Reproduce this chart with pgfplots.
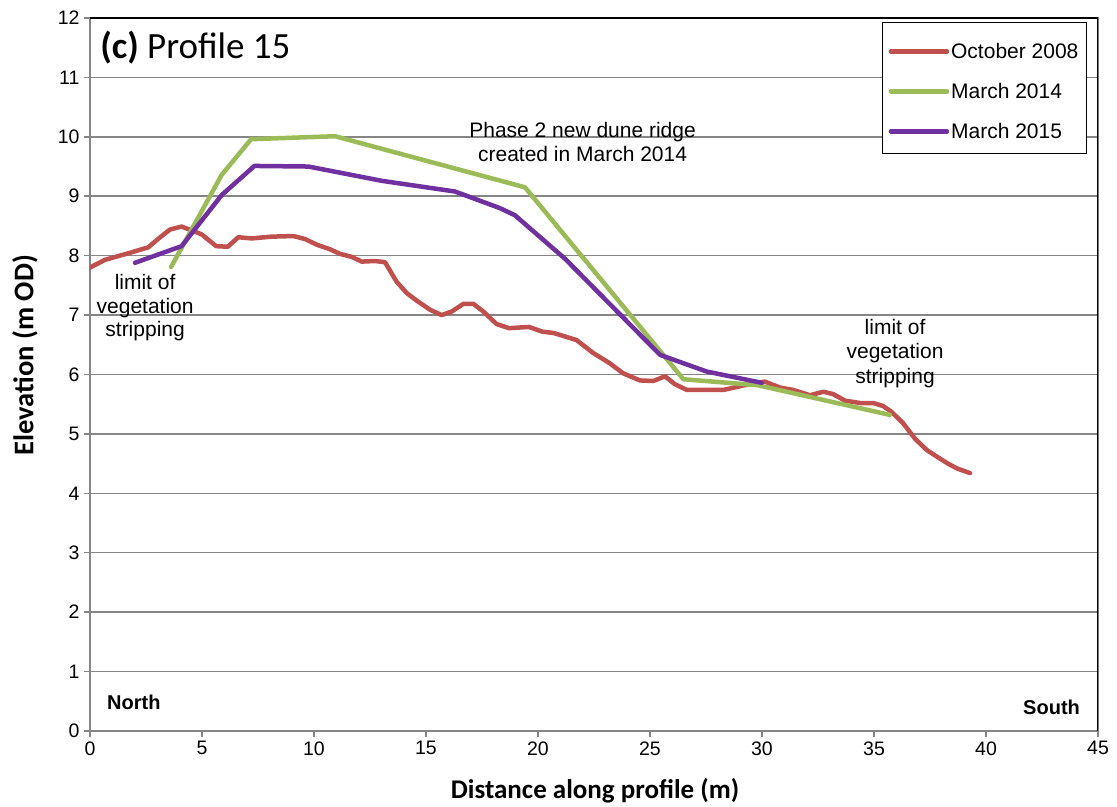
\documentclass[border=0pt]{standalone}
\usepackage{pgfplots}
\pgfplotsset{compat=1.18}
\usepackage{fontspec}
\setmainfont{Liberation Sans}
\newfontfamily\calibri{Carlito}
\definecolor{cred}{HTML}{C0504D}
\definecolor{cgreen}{HTML}{9BBB59}
\definecolor{cpurple}{HTML}{7030A0}
\definecolor{cgrid}{HTML}{868686}
\begin{document}
\begin{tikzpicture}
\begin{axis}[
  scale only axis, width=1008bp, height=713bp,
  at={(0,0)}, anchor=south west,
  xmin=0, xmax=45, ymin=0, ymax=12,
  xtick={0,5,...,45}, ytick={0,1,...,12},
  tick pos=left, tick align=outside, major tick length=6bp,
  tick style={cgrid, line width=1.5bp},
  ymajorgrids, grid style={cgrid, line width=1.5bp},
  axis line style={cgrid, line width=1.5bp},
  /pgf/number format/assume math mode=true,
  xticklabel style={font=\fontsize{19.5bp}{22bp}\selectfont, yshift=-1bp},
  yticklabel style={font=\fontsize{19.5bp}{22bp}\selectfont, xshift=-1bp},
  xlabel={Distance along profile (m)},
  ylabel={Elevation (m OD)},
  xlabel style={font=\calibri\bfseries\fontsize{27bp}{30bp}\selectfont, at={(axis description cs:0.501,-0.084)}, anchor=center},
  ylabel style={font=\calibri\bfseries\fontsize{28.5bp}{30bp}\selectfont, at={(axis description cs:-0.0645,0.527)}, anchor=center},
  legend style={at={(rel axis cs:0.989,0.994)}, anchor=north east, draw=black, line width=1bp,
    font=\fontsize{21bp}{24bp}\selectfont, inner xsep=6bp, inner ysep=8bp, row sep=5bp,
    nodes={inner xsep=2bp, inner ysep=2bp, text height=26bp, text depth=5bp}},
  legend cell align=left,
  legend image code/.code={\draw[#1, line width=4.5bp, line cap=round] (0bp,-3bp) -- (56bp,-3bp);},
  every axis plot/.append style={line width=4.5bp, line join=round, line cap=round},
]
\addplot[cred] coordinates {
(0,7.80) (0.67,7.93) (1.71,8.04) (2.6,8.14) (3.1,8.30) (3.57,8.44) (4.09,8.49) (4.98,8.36)
(5.63,8.16) (6.15,8.15) (6.62,8.31) (7.22,8.29) (8.1,8.32) (9.08,8.33) (9.6,8.28) (10.15,8.18)
(10.7,8.11) (11.16,8.03) (11.68,7.98) (12.13,7.90) (12.72,7.91) (13.17,7.89) (13.69,7.56)
(14.14,7.37) (14.6,7.24) (15.18,7.09) (15.7,7.00) (16.15,7.06) (16.67,7.19) (17.11,7.19)
(17.56,7.06) (18.15,6.85) (18.7,6.78) (19.6,6.80) (20.2,6.72) (20.68,6.70) (21.2,6.64)
(21.72,6.58) (22.47,6.36) (23.2,6.19) (23.8,6.02) (24.55,5.90) (25.15,5.89) (25.67,5.97)
(26.1,5.84) (26.64,5.74) (27.68,5.74) (28.27,5.74) (28.87,5.79) (29.46,5.84) (30.13,5.88)
(30.8,5.78) (31.4,5.74) (32.14,5.65) (32.74,5.71) (33.18,5.67) (33.7,5.56) (34.38,5.52)
(34.97,5.52) (35.4,5.47) (35.79,5.37) (36.3,5.18) (36.83,4.92) (37.35,4.73) (37.8,4.62)
(38.3,4.50) (38.7,4.42) (39.29,4.34)
};
\addlegendentry{October 2008}
\addplot[cgreen] coordinates {
(3.62,7.81) (5.88,9.36) (7.19,9.96) (10.94,10.01) (19.42,9.15) (26.49,5.92) (29.8,5.82) (35.71,5.32)
};
\addlegendentry{March 2014}
\addplot[cpurple] coordinates {
(2.01,7.88) (4.09,8.16) (5.88,9.02) (7.34,9.51) (9.75,9.50) (13.02,9.26) (16.29,9.08)
(18.3,8.80) (18.97,8.68) (21.2,7.95) (25.45,6.33) (27.53,6.05) (29.99,5.86)
};
\addlegendentry{March 2015}
\draw[black, line width=1.5bp] (rel axis cs:0,1) -- (rel axis cs:1,1) -- (rel axis cs:1,0);
\node[anchor=base west, inner sep=0pt, font=\calibri\fontsize{37bp}{40bp}\selectfont] at (axis cs:0.45,11.31) {\textbf{(c)} Profile 15};
\node[align=center, inner sep=0pt, font=\fontsize{21bp}{23.5bp}\selectfont] at (axis cs:2.46,7.12) {limit of\\vegetation\\stripping};
\node[align=center, inner sep=0pt, font=\fontsize{21bp}{24.5bp}\selectfont] at (axis cs:35.94,6.36) {limit of\\vegetation\\stripping};
\node[align=center, inner sep=0pt, font=\fontsize{21bp}{24.5bp}\selectfont] at (axis cs:21.99,9.91) {Phase 2 new dune ridge\\created in March 2014};
\node[anchor=west, inner sep=0pt, font=\bfseries\fontsize{20bp}{24bp}\selectfont] at (axis cs:0.76,0.49) {North};
\node[anchor=east, inner sep=0pt, font=\bfseries\fontsize{20bp}{24bp}\selectfont] at (axis cs:44.2,0.40) {South};
\end{axis}
\pgfresetboundingbox
\path (-90bp,-76bp) rectangle (1027bp,731bp);
\end{tikzpicture}
\end{document}
